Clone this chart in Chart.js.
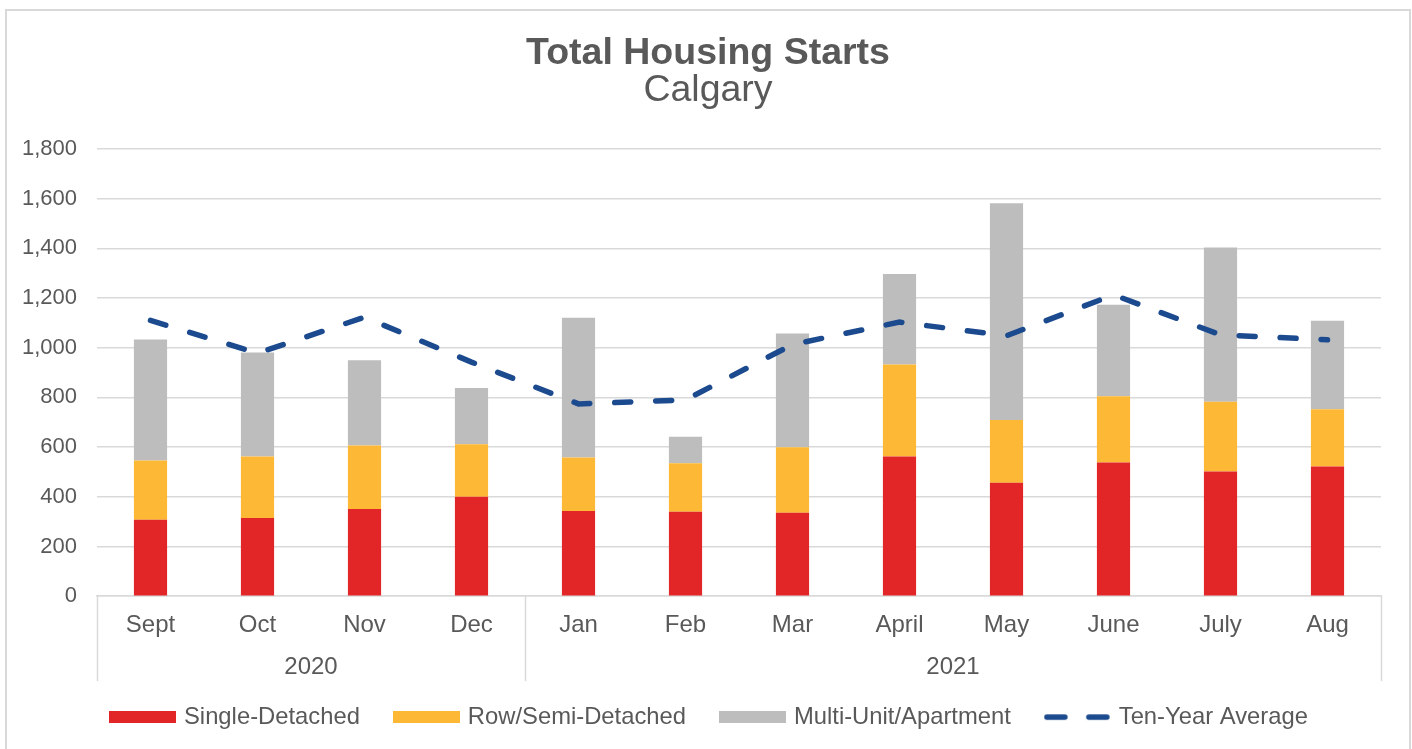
<!DOCTYPE html>
<html>
<head>
<meta charset="utf-8">
<script src="https://cdn.jsdelivr.net/npm/chart.js@4"></script>
<style>
  html, body { margin: 0; padding: 0; background: #ffffff; }
  #c { display: block; }
</style>
</head>
<body>
<canvas id="c" width="1412" height="749"></canvas>
<script>
const categories = ['Sept', 'Oct', 'Nov', 'Dec', 'Jan', 'Feb', 'Mar', 'April', 'May', 'June', 'July', 'Aug'];
const yearOfCategory = ['2020', '2020', '2020', '2020', '2021', '2021', '2021', '2021', '2021', '2021', '2021', '2021'];
const singleDetached = [308, 315, 351, 400, 343, 340, 336, 562, 457, 538, 502, 522];
const rowSemiDetached = [238, 247, 256, 212, 215, 195, 263, 370, 252, 267, 281, 230];
const multiUnit = [487, 419, 343, 226, 563, 107, 458, 365, 872, 368, 620, 357];
const tenYearAverage = [1110, 978, 1123, 942, 774, 790, 1013, 1103, 1048, 1213, 1052, 1032];
const seriesNames = ['Single-Detached', 'Row/Semi-Detached', 'Multi-Unit/Apartment', 'Ten-Year Average'];
const titleText = 'Total Housing Starts';
const subtitleText = 'Calgary';

const FONT = "'Liberation Sans', Arial, sans-serif";
const TEXT = '#595959';
const GRID = '#d9d9d9';
const COLORS = ['#E22527', '#FDB836', '#BDBDBD', '#1C4A8E'];
const LINE_DASH = [16, 25];

function legendRect(color) {
  const c = document.createElement('canvas');
  c.width = 67; c.height = 12;
  const x = c.getContext('2d');
  x.fillStyle = color;
  x.fillRect(0, 0, 67, 12);
  return c;
}
function legendDash(color) {
  const c = document.createElement('canvas');
  c.width = 67; c.height = 10;
  const x = c.getContext('2d');
  x.strokeStyle = color;
  x.lineWidth = 5.5;
  x.lineCap = 'round';
  x.setLineDash([18, 24]);
  x.beginPath();
  x.moveTo(3, 5);
  x.lineTo(64, 5);
  x.stroke();
  return c;
}

const borderPlugin = {
  id: 'outerBorder',
  beforeDraw(chart) {
    const ctx = chart.ctx;
    ctx.save();
    ctx.fillStyle = '#ffffff';
    ctx.fillRect(0, 0, chart.width, chart.height);
    ctx.strokeStyle = GRID;
    ctx.lineWidth = 2;
    ctx.strokeRect(6, 10, 1404, 800);
    ctx.restore();
  }
};

const shiftPlugin = {
  id: 'boxShift',
  afterLayout(chart) {
    chart.boxes.forEach(b => {
      if (b === chart.legend) {
        b.left += 8.5; b.right += 8.5;
      } else if (!b.axis && b.options && typeof b.options.text === 'string') {
        b.left += 6; b.right += 6;
      }
    });
  }
};

const multiLevelPlugin = {
  id: 'multiLevel',
  afterDraw(chart) {
    const ctx = chart.ctx;
    const xs = chart.scales.x;
    const area = chart.chartArea;
    const groups = [];
    yearOfCategory.forEach((y, i) => {
      const last = groups[groups.length - 1];
      if (!last || last.label !== y) groups.push({ label: y, start: i, end: i });
      else last.end = i;
    });
    const half = (xs.getPixelForValue(1) - xs.getPixelForValue(0)) / 2;
    ctx.save();
    ctx.strokeStyle = GRID;
    ctx.lineWidth = 1.5;
    const edges = [];
    groups.forEach((g, gi) => {
      const left = xs.getPixelForValue(g.start) - half;
      const right = xs.getPixelForValue(g.end) + half;
      edges.push(left);
      if (gi === groups.length - 1) edges.push(right);
      ctx.fillStyle = TEXT;
      ctx.font = '24px ' + FONT;
      ctx.textAlign = 'center';
      ctx.textBaseline = 'middle';
      ctx.fillText(g.label, (left + right) / 2, area.bottom + 71);
    });
    edges.forEach(x => {
      ctx.beginPath();
      ctx.moveTo(Math.round(x) + 0.5, area.bottom);
      ctx.lineTo(Math.round(x) + 0.5, area.bottom + 85);
      ctx.stroke();
    });
    ctx.restore();
  }
};

const barCommon = { stack: 'bars', order: 1, borderWidth: 0, barPercentage: 0.31, categoryPercentage: 1.0 };

new Chart(document.getElementById('c'), {
  type: 'bar',
  data: {
    labels: categories,
    datasets: [
      Object.assign({ label: seriesNames[0], data: singleDetached, backgroundColor: COLORS[0] }, barCommon),
      Object.assign({ label: seriesNames[1], data: rowSemiDetached, backgroundColor: COLORS[1] }, barCommon),
      Object.assign({ label: seriesNames[2], data: multiUnit, backgroundColor: COLORS[2] }, barCommon),
      {
        type: 'line',
        label: seriesNames[3],
        data: tenYearAverage,
        stack: 'avg',
        order: 0,
        borderColor: COLORS[3],
        backgroundColor: COLORS[3],
        borderWidth: 5.5,
        borderDash: LINE_DASH,
        borderCapStyle: 'round',
        tension: 0,
        pointRadius: 0,
        fill: false
      }
    ]
  },
  options: {
    responsive: false,
    animation: false,
    layout: { padding: { left: 23, right: 31, top: 0, bottom: 10 } },
    plugins: {
      tooltip: { enabled: false },
      title: {
        display: true,
        text: titleText,
        color: TEXT,
        font: { family: FONT, size: 37.5, weight: 'bold', lineHeight: 0.9 },
        padding: { top: 37, bottom: 0 }
      },
      subtitle: {
        display: true,
        text: subtitleText,
        color: TEXT,
        font: { family: FONT, size: 37.5, weight: 'normal', lineHeight: 1.0 },
        padding: { top: 1.5, bottom: 39.2 }
      },
      legend: {
        position: 'bottom',
        labels: {
          usePointStyle: true,
          pointStyleWidth: 59,
          boxHeight: 12,
          padding: 37,
          color: TEXT,
          font: { family: FONT, size: 23.8 },
          sort: (a, b) => a.datasetIndex - b.datasetIndex,
          generateLabels(chart) {
            const items = Chart.defaults.plugins.legend.labels.generateLabels(chart);
            return items.map(it => {
              const ds = chart.data.datasets[it.datasetIndex];
              it.lineWidth = 0;
              it.pointStyle = ds.type === 'line' ? legendDash(ds.borderColor) : legendRect(ds.backgroundColor);
              return it;
            });
          }
        }
      }
    },
    scales: {
      x: {
        stacked: true,
        grid: { display: false, drawTicks: false },
        border: { display: true, color: GRID, width: 1.5 },
        ticks: { color: TEXT, font: { family: FONT, size: 24 }, padding: 15, maxRotation: 0, autoSkip: false },
        afterFit(scale) { scale.height = 72; }
      },
      y: {
        stacked: true,
        min: 0,
        max: 1800,
        grid: { color: GRID, lineWidth: 1.5, drawTicks: false },
        border: { display: false },
        ticks: { stepSize: 200, color: TEXT, font: { family: FONT, size: 22 }, padding: 20 },
        afterFit(scale) { scale.width = 74; }
      }
    }
  },
  plugins: [borderPlugin, shiftPlugin, multiLevelPlugin]
});
</script>
</body>
</html>
